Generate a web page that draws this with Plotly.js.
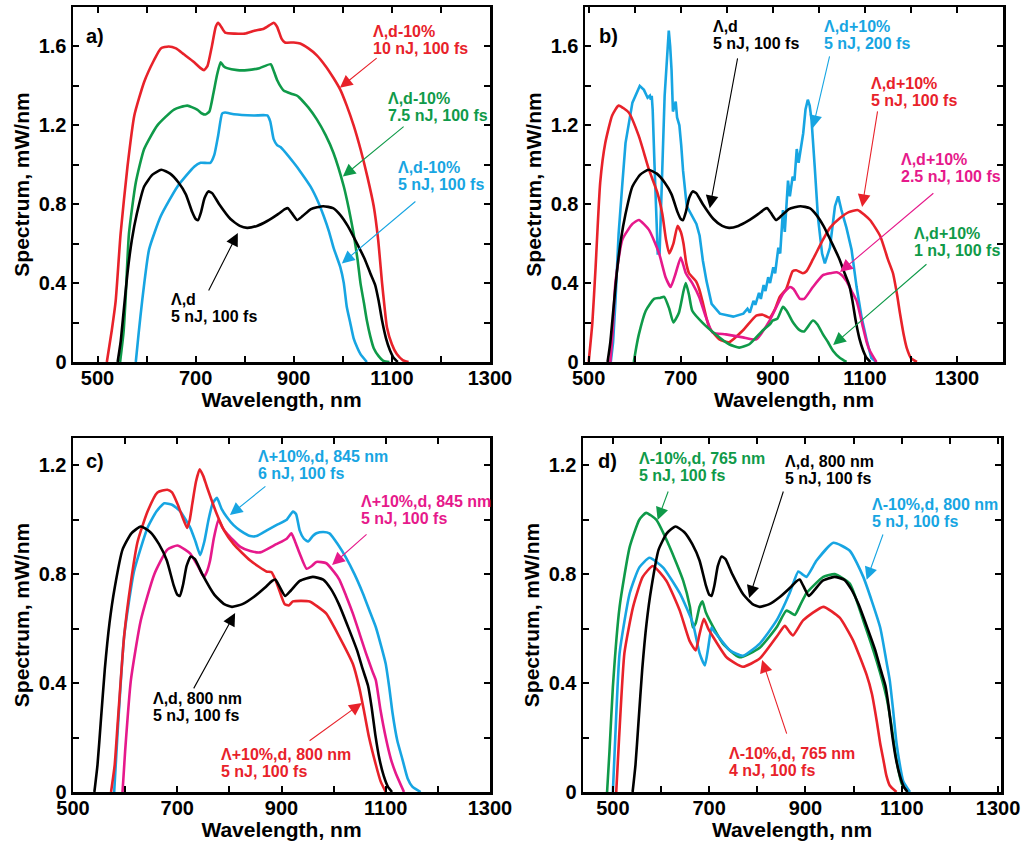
<!DOCTYPE html>
<html>
<head>
<meta charset="utf-8">
<script src="https://cdn.plot.ly/plotly-3.0.1.min.js"></script>
<style>html,body{margin:0;padding:0;background:#fff;}#chart{width:1021px;height:843px;}</style>
</head>
<body>
<div id="chart"></div>
<script>
// ---------- DATA ----------
// Reference spectrum (Λ,d, 800 nm, 5 nJ, 100 fs), same in all panels
const black_x = [541,547,553,561,570,580,595,612,630,648,665,680,693,700,705,711,718,726,734,748,771,790,805,825,846,868,882,888,896,907,918,935,960,980,995,1010,1029,1045,1056,1066,1073,1080,1088,1096,1104,1112];
const black_y = [0,0.1,0.25,0.45,0.62,0.75,0.89,0.95,0.975,0.955,0.91,0.85,0.76,0.725,0.72,0.76,0.83,0.865,0.855,0.8,0.725,0.69,0.68,0.69,0.715,0.75,0.775,0.78,0.755,0.72,0.74,0.775,0.79,0.78,0.745,0.69,0.6,0.52,0.45,0.39,0.31,0.21,0.12,0.06,0.02,0];

// Panel a
const a_red_x = [519,529,537,547,561,575,595,615,629,645,660,676,697,710,717,724,733,741,746,752,760,780,800,820,839,852,859,866,875,882,900,913,930,947,965,981,995,1008,1022,1036,1050,1063,1072,1080,1085,1090,1100,1110,1122,1134];
const a_red_y = [0,0.16,0.31,0.65,0.99,1.25,1.42,1.53,1.59,1.6,1.59,1.56,1.52,1.49,1.48,1.5,1.6,1.7,1.72,1.7,1.67,1.665,1.665,1.68,1.69,1.71,1.72,1.7,1.64,1.62,1.62,1.615,1.59,1.555,1.5,1.44,1.38,1.3,1.2,1.08,0.94,0.79,0.62,0.4,0.28,0.175,0.09,0.04,0.01,0];
const a_green_x = [546,553,557,564,578,595,622,656,683,703,713,720,728,736,744,751,757,764,785,805,830,853,860,866,875,880,895,907,930,947,965,981,1002,1012,1022,1030,1036,1043,1049,1056,1063,1073,1083,1095];
const a_green_y = [0,0.15,0.31,0.65,0.91,1.08,1.2,1.28,1.3,1.28,1.26,1.255,1.27,1.36,1.46,1.52,1.5,1.49,1.48,1.48,1.49,1.51,1.47,1.43,1.39,1.375,1.36,1.35,1.29,1.23,1.15,1.06,0.89,0.78,0.65,0.52,0.4,0.3,0.21,0.13,0.07,0.03,0.005,0];
const a_blue_x = [578,584,591,605,629,663,697,710,730,738,746,754,760,778,819,846,852,859,866,873,900,915,934,950,961,972,981,995,1002,1008,1015,1022,1030,1036,1049];
const a_blue_y = [0,0.15,0.31,0.57,0.74,0.89,0.99,1.01,1.01,1.05,1.15,1.26,1.265,1.256,1.25,1.25,1.22,1.13,1.1,1.09,1.01,0.96,0.89,0.81,0.74,0.66,0.58,0.48,0.4,0.28,0.2,0.12,0.07,0.04,0];

// Panel b
const b_red_x = [500,508,515,525,536,551,565,587,609,631,649,660,668,675,684,693,700,706,712,718,733,740,747,762,784,805,835,864,878,893,905,915,929,943,951,965,973,987,1009,1024,1046,1065,1085,1111,1133,1150,1161,1170,1176,1185,1191,1200,1213];
const b_red_y = [0,0.2,0.48,0.91,1.11,1.25,1.3,1.265,1.145,0.975,0.86,0.75,0.62,0.55,0.6,0.69,0.66,0.6,0.5,0.45,0.41,0.37,0.31,0.175,0.115,0.1,0.16,0.235,0.24,0.225,0.27,0.33,0.37,0.46,0.465,0.45,0.46,0.52,0.62,0.68,0.73,0.76,0.77,0.72,0.64,0.52,0.45,0.34,0.25,0.13,0.07,0.02,0];
const b_magenta_x = [547,552,558,573,595,609,631,653,667,678,689,700,711,725,740,755,769,798,835,864,893,922,937,945,959,968,987,1009,1025,1039,1050,1060,1071,1082,1096,1104,1111,1125];
const b_magenta_y = [0,0.15,0.4,0.62,0.7,0.72,0.67,0.55,0.43,0.38,0.45,0.53,0.45,0.4,0.33,0.225,0.15,0.14,0.125,0.115,0.21,0.345,0.38,0.37,0.32,0.32,0.38,0.44,0.45,0.455,0.44,0.41,0.36,0.31,0.175,0.1,0.056,0];
const b_green_x = [598,603,609,624,642,655,664,675,684,696,706,711,718,725,747,776,805,827,849,878,893,900,910,922,930,944,959,968,987,997,1009,1020,1031,1046,1060];
const b_green_y = [0,0.07,0.14,0.26,0.32,0.325,0.33,0.27,0.2,0.25,0.36,0.4,0.34,0.26,0.2,0.14,0.09,0.073,0.09,0.16,0.19,0.21,0.22,0.28,0.26,0.2,0.16,0.155,0.21,0.19,0.14,0.1,0.056,0.02,0];
const b_blue_x = [548,553,558,565,573,580,595,611,620,628,633,635,637,639,643,647,650,654,658,661,665,670,674,677,680,683,686,689,692,697,701,705,713,720,734,741,748,756,767,785,814,836,845,850,858,862,870,874,880,884,890,894,901,905,912,916,922,926,933,937,943,947,952,956,963,966,971,976,980,984,991,998,1007,1013,1024,1035,1042,1049,1060,1071,1082,1093,1104,1114,1125];
const b_blue_y = [0,0.1,0.3,0.65,0.9,1.11,1.315,1.4,1.38,1.34,1.35,1.33,1.35,1.28,1.0,0.7,0.55,0.55,0.8,1.06,1.35,1.57,1.68,1.6,1.48,1.27,1.3,1.32,1.24,1.2,1.1,0.97,0.79,0.76,0.7,0.64,0.515,0.41,0.295,0.245,0.23,0.245,0.27,0.25,0.31,0.29,0.35,0.32,0.39,0.36,0.43,0.4,0.48,0.45,0.58,0.55,0.77,0.66,0.92,0.84,0.94,0.92,1.08,1.01,1.11,1.16,1.28,1.33,1.3,1.23,0.99,0.735,0.55,0.5,0.58,0.79,0.84,0.77,0.68,0.57,0.38,0.225,0.11,0.02,0];

// Panel c
const c_red_x = [573,580,586,598,611,624,643,662,681,690,700,710,719,724,729,736,743,750,757,776,790,808,840,871,881,888,894,906,914,922,954,970,986,1011,1037,1049,1058,1068,1081,1090,1100];
const c_red_y = [0,0.1,0.26,0.57,0.77,0.92,1.03,1.1,1.11,1.1,1.06,1.01,0.97,1.0,1.06,1.14,1.185,1.16,1.12,1.02,0.96,0.91,0.85,0.81,0.807,0.78,0.75,0.69,0.685,0.7,0.7,0.68,0.655,0.57,0.47,0.385,0.3,0.2,0.1,0.04,0];
const c_blue_x = [579,585,598,617,643,660,675,690,706,725,735,744,752,760,768,776,785,795,808,821,840,852,871,890,910,922,928,935,943,951,960,967,980,992,1008,1024,1040,1056,1070,1081,1092,1100,1107,1113,1122,1132,1142,1151,1167];
const c_blue_y = [0,0.2,0.57,0.81,0.97,1.03,1.06,1.055,1.03,0.97,0.92,0.87,0.92,1.0,1.06,1.08,1.04,1.01,0.98,0.96,0.94,0.94,0.96,0.98,1.0,1.03,1.02,0.96,0.93,0.92,0.94,0.95,0.955,0.95,0.91,0.86,0.8,0.73,0.66,0.605,0.53,0.47,0.38,0.29,0.19,0.12,0.05,0.02,0];
const c_magenta_x = [595,600,611,630,656,681,700,715,725,741,751,757,763,770,779,787,795,821,840,859,890,910,919,926,935,948,958,967,986,1000,1011,1024,1037,1050,1062,1075,1081,1090,1100,1110,1119,1135];
const c_magenta_y = [0,0.15,0.41,0.63,0.8,0.89,0.905,0.89,0.875,0.825,0.79,0.81,0.85,0.93,1.0,0.97,0.95,0.9,0.885,0.88,0.91,0.93,0.95,0.92,0.875,0.82,0.83,0.845,0.84,0.81,0.78,0.72,0.655,0.58,0.51,0.44,0.41,0.3,0.2,0.12,0.07,0];

// Panel d
const d_green_x = [488,493,500,514,535,555,569,590,618,646,660,666,672,680,686,693,701,729,763,805,840,860,868,878,890,902,937,961,992,1020,1048,1068,1078,1086,1093,1100,1113];
const d_green_y = [0,0.15,0.385,0.68,0.9,1.0,1.025,1.0,0.9,0.776,0.68,0.605,0.62,0.68,0.7,0.66,0.63,0.544,0.495,0.53,0.605,0.666,0.66,0.65,0.69,0.73,0.79,0.8,0.765,0.63,0.48,0.35,0.25,0.15,0.08,0.03,0];
const d_blue_x = [500,505,514,535,555,576,604,639,666,680,691,698,705,710,715,743,770,805,840,867,885,893,902,923,958,992,1020,1055,1068,1075,1082,1089,1096,1103,1117];
const d_blue_y = [0,0.2,0.51,0.73,0.825,0.86,0.825,0.73,0.62,0.51,0.465,0.53,0.605,0.59,0.58,0.52,0.5,0.545,0.63,0.73,0.81,0.8,0.79,0.85,0.915,0.886,0.79,0.605,0.48,0.41,0.3,0.18,0.1,0.04,0];
const d_red_x = [507,513,524,542,562,583,611,639,659,672,680,689,698,708,736,770,805,840,857,866,874,895,937,971,999,1027,1038,1048,1055,1062,1068,1075,1089];
const d_red_y = [0,0.2,0.51,0.68,0.79,0.83,0.776,0.666,0.556,0.52,0.58,0.636,0.6,0.57,0.495,0.46,0.49,0.57,0.61,0.59,0.575,0.63,0.68,0.64,0.556,0.43,0.36,0.26,0.18,0.116,0.06,0.024,0];

// Tick labels
const x_tickvals = [500,600,700,800,900,1000,1100,1200,1300,1400];
const x_ticktext = ['500','','700','','900','','1100','','1300',''];
const y_tickvals_ab = [0,0.2,0.4,0.6,0.8,1.0,1.2,1.4,1.6,1.8];
const y_ticktext_ab = ['0','','0.4','','0.8','','1.2','','1.6',''];
const y_tickvals_cd = [0,0.2,0.4,0.6,0.8,1.0,1.2];
const y_ticktext_cd = ['0','','0.4','','0.8','','1.2'];

// ---------- STYLE ----------
const RED = '#e8222a', GREEN = '#0f9a49', BLUE = '#17a5e2', MAG = '#e6198b', BLK = '#000000';
const FONT = 'Liberation Sans, Arial, Helvetica, sans-serif';
const W = 1021, H = 843;
const TICK = 20, TITLE = 21, ANN = 16, LINE = 17;

function trace(x, y, color, xa, ya, shape) {
  return {x: x, y: y, xaxis: xa, yaxis: ya, mode: 'lines', type: 'scatter',
    line: {color: color, width: 2.6, shape: shape || 'spline', smoothing: 0.5}, hoverinfo: 'skip'};
}

const data = [
  trace(a_red_x, a_red_y, RED, 'x', 'y'),
  trace(a_green_x, a_green_y, GREEN, 'x', 'y'),
  trace(a_blue_x, a_blue_y, BLUE, 'x', 'y'),
  trace(black_x, black_y, BLK, 'x', 'y'),

  trace(b_blue_x, b_blue_y, BLUE, 'x2', 'y2', 'linear'),
  trace(b_red_x, b_red_y, RED, 'x2', 'y2'),
  trace(b_magenta_x, b_magenta_y, MAG, 'x2', 'y2'),
  trace(b_green_x, b_green_y, GREEN, 'x2', 'y2'),
  trace(black_x, black_y, BLK, 'x2', 'y2'),

  trace(c_blue_x, c_blue_y, BLUE, 'x3', 'y3'),
  trace(c_magenta_x, c_magenta_y, MAG, 'x3', 'y3'),
  trace(c_red_x, c_red_y, RED, 'x3', 'y3'),
  trace(black_x, black_y, BLK, 'x3', 'y3'),

  trace(d_green_x, d_green_y, GREEN, 'x4', 'y4'),
  trace(d_blue_x, d_blue_y, BLUE, 'x4', 'y4'),
  trace(d_red_x, d_red_y, RED, 'x4', 'y4'),
  trace(black_x, black_y, BLK, 'x4', 'y4')
];

function xax(px0, px1, range, anchor) {
  return {domain: [px0 / W, px1 / W], range: range, anchor: anchor,
    showline: true, linewidth: 2.5, linecolor: '#000', mirror: 'ticks',
    ticks: 'inside', ticklen: 6, tickwidth: 2, tickcolor: '#000',
    tickmode: 'array', tickvals: x_tickvals, ticktext: x_ticktext,
    showgrid: false, zeroline: false, ticklabeloverflow: 'allow', ticklabelstandoff: -4,
    tickfont: {family: FONT, size: TICK, color: '#000', weight: 'bold'},
    title: {text: 'Wavelength, nm', font: {family: FONT, size: TITLE, color: '#000', weight: 'bold'}, standoff: 5}};
}
function yax(py0, py1, range, anchor, tv, tt) {
  return {domain: [1 - py1 / H, 1 - py0 / H], range: range, anchor: anchor,
    showline: true, linewidth: 2.5, linecolor: '#000', mirror: 'ticks',
    ticks: 'inside', ticklen: 6, tickwidth: 2, tickcolor: '#000',
    tickmode: 'array', tickvals: tv, ticktext: tt,
    showgrid: false, zeroline: false, ticklabeloverflow: 'allow',
    tickfont: {family: FONT, size: TICK, color: '#000', weight: 'bold'},
    title: {text: 'Spectrum, mW/nm', font: {family: FONT, size: TITLE, color: '#000', weight: 'bold'}, standoff: 4}};
}

function oneLine(xr, yr, x, y, text, color, size, shift) {
  return {xref: xr, yref: yr, x: x, y: y, text: text, showarrow: false,
    xanchor: 'left', yanchor: 'top', align: 'left', yshift: shift || 0,
    font: {family: FONT, size: size, color: color, weight: 'bold'}};
}
function label(xr, yr, x, y, l1, l2, color) {
  return [oneLine(xr, yr, x, y, l1, color, ANN, 0), oneLine(xr, yr, x, y, l2, color, ANN, -LINE)];
}
function arrow(xr, yr, x0, y0, x1, y1, color) {
  return {xref: xr, yref: yr, axref: xr, ayref: yr, ax: x0, ay: y0, x: x1, y: y1,
    text: '', showarrow: true, arrowhead: 2, arrowsize: 2.3, arrowwidth: 1.1,
    arrowcolor: color, standoff: 0, startstandoff: 0};
}

const annotations = [].concat(
  [oneLine('x', 'y', 472, 1.72, 'a)', BLK, 20)],
  label('x', 'y', 1057, 1.73, 'Λ,d-10%', '10 nJ, 100 fs', RED),
  [arrow('x', 'y', 1072, 1.547, 994, 1.39, RED)],
  label('x', 'y', 1088, 1.39, 'Λ,d-10%', '7.5 nJ, 100 fs', GREEN),
  [arrow('x', 'y', 1127, 1.20, 1000, 0.94, GREEN)],
  label('x', 'y', 1108, 1.04, 'Λ,d-10%', '5 nJ, 100 fs', BLUE),
  [arrow('x', 'y', 1151, 0.82, 998, 0.50, BLUE)],
  label('x', 'y', 646, 0.37, 'Λ,d', '5 nJ, 100 fs', BLK),
  [arrow('x', 'y', 725, 0.355, 786, 0.654, BLK)],

  [oneLine('x2', 'y2', 518, 1.72, 'b)', BLK, 20)],
  label('x2', 'y2', 766, 1.755, 'Λ,d', '5 nJ, 100 fs', BLK),
  [arrow('x2', 'y2', 824, 1.547, 763, 0.78, BLK)],
  label('x2', 'y2', 1007, 1.755, 'Λ,d+10%', '5 nJ, 200 fs', BLUE),
  [arrow('x2', 'y2', 1024, 1.557, 987, 1.187, BLUE)],
  label('x2', 'y2', 1109, 1.465, 'Λ,d+10%', '5 nJ, 100 fs', RED),
  [arrow('x2', 'y2', 1128, 1.278, 1094, 0.786, RED)],
  label('x2', 'y2', 1174, 1.08, 'Λ,d+10%', '2.5 nJ, 100 fs', MAG),
  [arrow('x2', 'y2', 1252, 0.862, 1046, 0.456, MAG)],
  label('x2', 'y2', 1202, 0.705, 'Λ,d+10%', '1 nJ, 100 fs', GREEN),
  [arrow('x2', 'y2', 1237, 0.502, 1031, 0.086, GREEN)],

  [oneLine('x3', 'y3', 521, 1.265, 'c)', BLK, 20)],
  label('x3', 'y3', 851, 1.27, 'Λ+10%,d, 845 nm', '6 nJ, 100 fs', BLUE),
  [arrow('x3', 'y3', 872, 1.127, 801, 1.017, BLUE)],
  label('x3', 'y3', 1049, 1.105, 'Λ+10%,d, 845 nm', '5 nJ, 100 fs', MAG),
  [arrow('x3', 'y3', 1066, 0.951, 997, 0.834, MAG)],
  label('x3', 'y3', 650, 0.382, 'Λ,d, 800 nm', '5 nJ, 100 fs', BLK),
  [arrow('x3', 'y3', 730, 0.375, 811, 0.657, BLK)],
  label('x3', 'y3', 780, 0.175, 'Λ+10%,d, 800 nm', '5 nJ, 100 fs', RED),
  [arrow('x3', 'y3', 951, 0.184, 1054, 0.327, RED)],

  [oneLine('x4', 'y4', 465, 1.265, 'd)', BLK, 20)],
  label('x4', 'y4', 550, 1.265, 'Λ-10%,d, 765 nm', '5 nJ, 100 fs', GREEN),
  [arrow('x4', 'y4', 616, 1.109, 593, 0.999, GREEN)],
  label('x4', 'y4', 853, 1.253, 'Λ,d, 800 nm', '5 nJ, 100 fs', BLK),
  [arrow('x4', 'y4', 855, 1.109, 783, 0.712, BLK)],
  label('x4', 'y4', 1033, 1.095, 'Λ-10%,d, 800 nm', '5 nJ, 100 fs', BLUE),
  [arrow('x4', 'y4', 1062, 0.951, 1027, 0.779, BLUE)],
  label('x4', 'y4', 736, 0.18, 'Λ-10%,d, 765 nm', '4 nJ, 100 fs', RED),
  [arrow('x4', 'y4', 862, 0.209, 810, 0.485, RED)]
);

const layout = {
  width: W, height: H, margin: {l: 0, r: 0, t: 0, b: 0},
  paper_bgcolor: '#fff', plot_bgcolor: '#fff', showlegend: false,
  xaxis: xax(73, 490, [450, 1300], 'y'),
  yaxis: yax(7, 362, [0, 1.8], 'x', y_tickvals_ab, y_ticktext_ab),
  xaxis2: xax(585, 1003, [492, 1400], 'y2'),
  yaxis2: yax(7, 362, [0, 1.8], 'x2', y_tickvals_ab, y_ticktext_ab),
  xaxis3: xax(73, 490, [500, 1300], 'y3'),
  yaxis3: yax(438, 792, [0, 1.3], 'x3', y_tickvals_cd, y_ticktext_cd),
  xaxis4: xax(583, 1001, [438, 1306], 'y4'),
  yaxis4: yax(438, 792, [0, 1.3], 'x4', y_tickvals_cd, y_ticktext_cd),
  annotations: annotations
};

Plotly.newPlot('chart', data, layout, {staticPlot: true, displayModeBar: false});
</script>
</body>
</html>
